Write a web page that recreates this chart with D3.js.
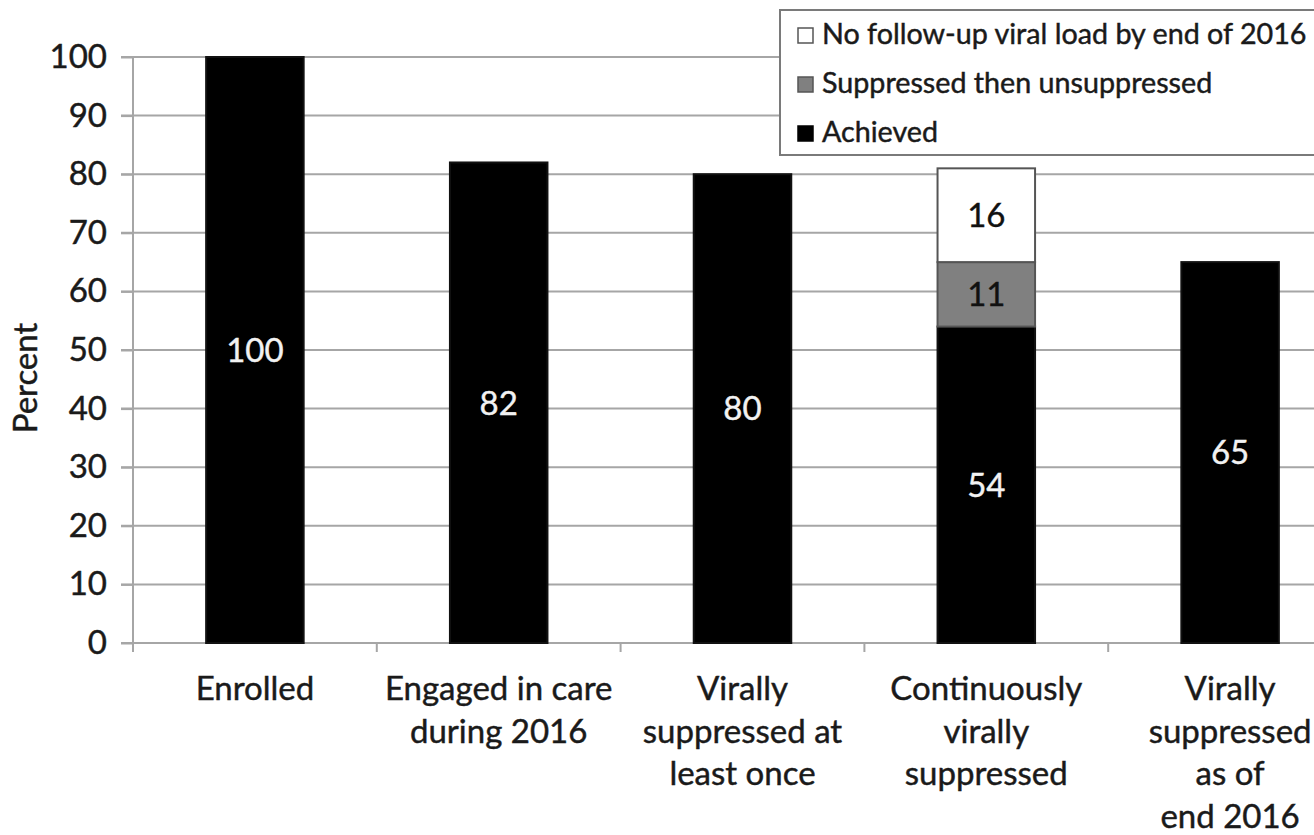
<!DOCTYPE html>
<html>
<head>
<meta charset="utf-8">
<script src="https://cdn.jsdelivr.net/npm/d3@7"></script>
<style>
  html, body { margin: 0; padding: 0; background: #fff; }
  svg { display: block; font-family: Lato, "Open Sans", sans-serif; }
  svg text.ink { stroke: #1a1a1a; stroke-width: 0.45px; }
</style>
</head>
<body>
<svg id="chart" width="1314" height="835"></svg>
<script>
// Care cascade stages (multi-line axis labels)
const categories = [
  "Enrolled",
  "Engaged in care during 2016",
  "Virally suppressed at least once",
  "Continuously virally suppressed",
  "Virally suppressed as of end 2016"
];
const categoryLines = [
  ["Enrolled"],
  ["Engaged in care", "during 2016"],
  ["Virally", "suppressed at", "least once"],
  ["Continuously", "virally", "suppressed"],
  ["Virally", "suppressed", "as of", "end 2016"]
];

// Percent of patients per stage, by outcome
const achieved = [100, 82, 80, 54, 65];
const suppressedThenUnsuppressed = [0, 0, 0, 11, 0];
const noFollowUp = [0, 0, 0, 16, 0];

const seriesKeys = ["achieved", "suppressedThenUnsuppressed", "noFollowUp"];
const seriesNames = [
  "Achieved",
  "Suppressed then unsuppressed",
  "No follow-up viral load by end of 2016"
];
const yTicks = [0, 10, 20, 30, 40, 50, 60, 70, 80, 90, 100];

const colors = { achieved: "#000000", suppressedThenUnsuppressed: "#808080", noFollowUp: "#ffffff" };
const strokes = { achieved: "#111111", suppressedThenUnsuppressed: "#555555", noFollowUp: "#555555" };
const labelColors = { achieved: "#f2f2f2", suppressedThenUnsuppressed: "#111111", noFollowUp: "#111111" };

const rows = categories.map((c, i) => ({
  category: c,
  achieved: achieved[i],
  suppressedThenUnsuppressed: suppressedThenUnsuppressed[i],
  noFollowUp: noFollowUp[i]
}));

const svg = d3.select("#chart");
const gridColor = "#a6a6a6";
const textColor = "#1a1a1a";

const x = d3.scaleBand()
  .domain(categories)
  .range([133, 1352])
  .paddingInner(0.6)
  .paddingOuter(0.3);

const y = d3.scaleLinear().domain([0, 100]).range([643, 57]);

// Horizontal gridlines
svg.append("g")
  .selectAll("line")
  .data(yTicks)
  .join("line")
  .attr("x1", 121)
  .attr("x2", 1314)
  .attr("y1", d => y(d))
  .attr("y2", d => y(d))
  .attr("stroke", gridColor)
  .attr("stroke-width", 2);

// Y axis
const yAxis = svg.append("g")
  .attr("transform", "translate(133,0)")
  .call(d3.axisLeft(y).tickValues(yTicks).tickSize(12).tickPadding(14));
yAxis.select(".domain").attr("stroke", gridColor).attr("stroke-width", 2)
  .attr("d", `M0,${y(100)}V${y(0) + 8}`);
yAxis.selectAll(".tick line").attr("stroke", gridColor).attr("stroke-width", 2);
yAxis.selectAll(".tick text")
  .attr("class", "ink")
  .attr("font-size", 33)
  .attr("fill", textColor)
  .attr("font-family", "Lato, 'Open Sans', sans-serif");

// X axis ticks at band boundaries
const step = x.step();
const boundaries = d3.range(categories.length + 1).map(i => x(categories[0]) - x.paddingInner() * step / 2 + i * step);
svg.append("g")
  .selectAll("line")
  .data(boundaries)
  .join("line")
  .attr("x1", d => d)
  .attr("x2", d => d)
  .attr("y1", y(0))
  .attr("y2", y(0) + 9)
  .attr("stroke", gridColor)
  .attr("stroke-width", 2);

// Stacked bars
const stack = d3.stack().keys(seriesKeys);
const stacked = stack(rows);

const layers = svg.append("g")
  .selectAll("g")
  .data(stacked)
  .join("g");

layers.selectAll("rect")
  .data(d => d.filter(s => s[1] - s[0] > 0).map(s => ({ key: d.key, s })))
  .join("rect")
  .attr("x", d => x(d.s.data.category))
  .attr("width", x.bandwidth())
  .attr("y", d => y(d.s[1]))
  .attr("height", d => y(d.s[0]) - y(d.s[1]))
  .attr("fill", d => colors[d.key])
  .attr("stroke", d => strokes[d.key])
  .attr("stroke-width", 2);

// Value labels centred in each segment
layers.selectAll("text")
  .data(d => d.filter(s => s[1] - s[0] > 0).map(s => ({ key: d.key, s })))
  .join("text")
  .attr("x", d => x(d.s.data.category) + x.bandwidth() / 2)
  .attr("y", d => y((d.s[0] + d.s[1]) / 2))
  .attr("dy", "0.36em")
  .attr("text-anchor", "middle")
  .attr("font-size", 33)
  .attr("fill", d => labelColors[d.key])
  .attr("stroke", d => labelColors[d.key])
  .attr("stroke-width", 0.4)
  .text(d => d.s[1] - d.s[0]);

// Category labels
const catG = svg.append("g");
categories.forEach((c, i) => {
  const t = catG.append("text")
    .attr("class", "ink")
    .attr("x", x(c) + x.bandwidth() / 2)
    .attr("y", 700)
    .attr("text-anchor", "middle")
    .attr("font-size", 33)
    .attr("fill", textColor);
  categoryLines[i].forEach((line, j) => {
    t.append("tspan")
      .attr("x", x(c) + x.bandwidth() / 2)
      .attr("dy", j === 0 ? 0 : 42.5)
      .text(line);
  });
});

// Y axis title
svg.append("text")
  .attr("class", "ink")
  .attr("transform", "translate(37,378) rotate(-90)")
  .attr("text-anchor", "middle")
  .attr("font-size", 33)
  .attr("fill", textColor)
  .text("Percent");

// Legend
const legend = svg.append("g");
legend.append("rect")
  .attr("x", 780)
  .attr("y", 10)
  .attr("width", 560)
  .attr("height", 145)
  .attr("fill", "#fff")
  .attr("stroke", "#7a7a7a")
  .attr("stroke-width", 2);

const legendOrder = ["noFollowUp", "suppressedThenUnsuppressed", "achieved"];
legendOrder.forEach((key, i) => {
  const by = 44 + i * 49;
  legend.append("rect")
    .attr("x", 798)
    .attr("y", by - 16)
    .attr("width", 15)
    .attr("height", 15)
    .attr("fill", colors[key])
    .attr("stroke", key === "achieved" ? "#000" : "#555")
    .attr("stroke-width", 1.5);
  legend.append("text")
    .attr("class", "ink")
    .attr("x", 822)
    .attr("y", by)
    .attr("font-size", 28.7)
    .attr("fill", textColor)
    .text(seriesNames[seriesKeys.indexOf(key)]);
});
</script>
</body>
</html>
